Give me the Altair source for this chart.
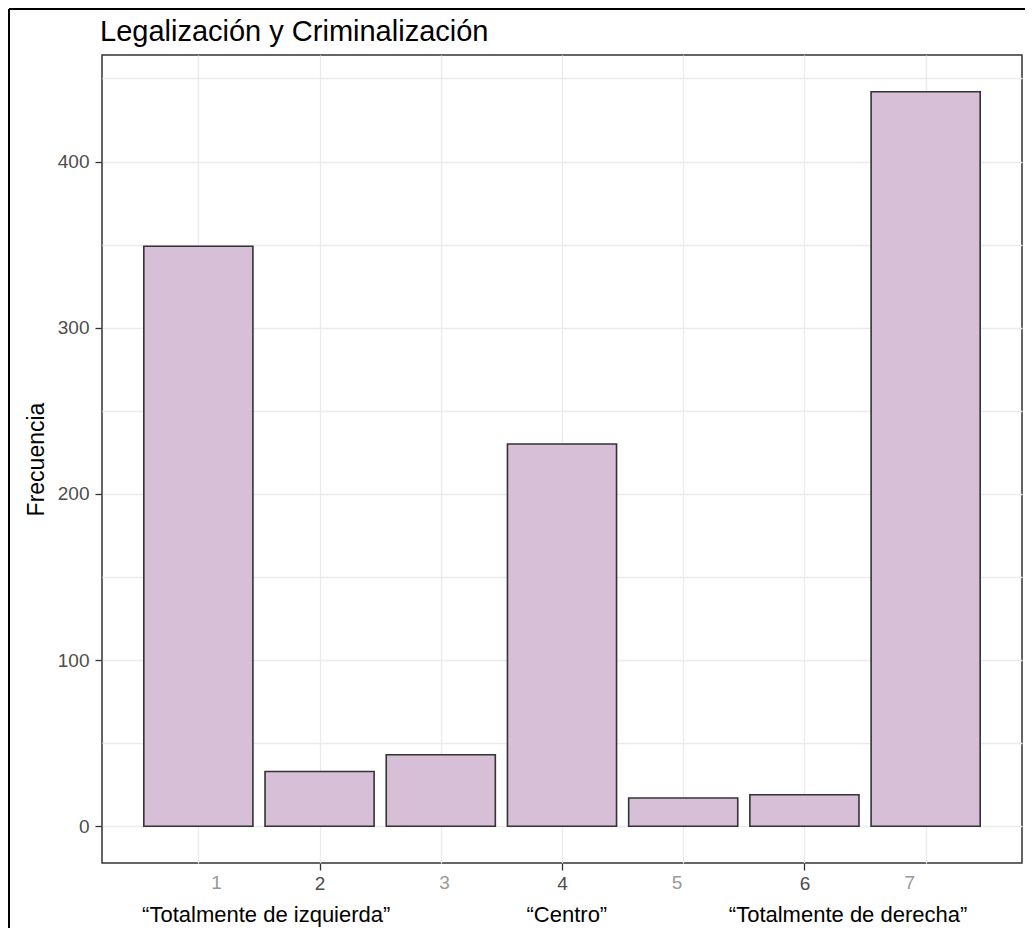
import altair as alt
import pandas as pd

# ---- data ----
categories = [1, 2, 3, 4, 5, 6, 7]
frequencies = [349, 33, 43, 230, 17, 19, 442]

odd_labels = ["1", "3", "5", "7"]
odd_label_pos = [1.15, 3.03, 4.95, 6.87]

scale_labels = ["\u201cTotalmente de izquierda\u201d", "\u201cCentro\u201d", "\u201cTotalmente de derecha\u201d"]
scale_label_pos = [1.56, 4.04, 6.36]

y_breaks = [0, 50, 100, 150, 200, 250, 300, 350, 400, 450]

title_text = ["Legalización y Criminalización"]

FONT = "Liberation Sans"
W, H = 920, 808

bars_df = pd.DataFrame({"valor": categories, "frecuencia": frequencies})
odd_df = pd.DataFrame({"pos": odd_label_pos, "lab": odd_labels})
scale_df = pd.DataFrame({"pos": scale_label_pos, "lab": scale_labels})
title_df = pd.DataFrame({"t": title_text})
frame_df = pd.DataFrame({"k": [0]})

xscale = alt.Scale(domain=[0.205, 7.795], nice=False, zero=False)
yscale = alt.Scale(domain=[-22.1, 464.1], nice=False, zero=False)

xaxis = alt.Axis(
    values=categories,
    grid=True, gridColor="#EBEBEB", gridWidth=1.3,
    domain=False,
    ticks=True, tickColor="#333333", tickSize=7, tickWidth=1.3,
    tickOpacity={"condition": {"test": "datum.value % 2 == 1", "value": 0}, "value": 1},
    labelExpr="datum.value % 2 == 0 ? datum.label : ''",
    labelColor="#4D4D4D", labelFont=FONT, labelFontSize=19,
    labelBaseline="middle", labelPadding=13,
    title=None,
)

yaxis = alt.Axis(
    values=y_breaks,
    grid=True, gridColor="#EBEBEB", gridWidth=1.3,
    domain=False,
    ticks=True, tickColor="#333333", tickSize=7, tickWidth=1.3,
    tickOpacity={"condition": {"test": "datum.value % 100 != 0", "value": 0}, "value": 1},
    labelExpr="datum.value % 100 == 0 ? datum.label : ''",
    labelColor="#4D4D4D", labelFont=FONT, labelFontSize=19, labelPadding=6,
    title="Frecuencia", titleFont=FONT, titleFontSize=23, titleFontWeight="normal",
    titleColor="black", titleX=-59, titleY=H / 2, titleBaseline="alphabetic",
    titleAngle=270, titleAlign="center",
)

bars = alt.Chart(bars_df).mark_rect(
    fill="#D8BFD8", stroke="#333333", strokeWidth=1.6
).transform_calculate(
    x0="datum.valor - 0.45", x1="datum.valor + 0.45"
).encode(
    x=alt.X("x0:Q", scale=xscale, axis=xaxis),
    x2="x1:Q",
    y=alt.Y("frecuencia:Q", scale=yscale, axis=yaxis),
    y2=alt.datum(0),
)

odd_text = alt.Chart(odd_df).mark_text(
    font=FONT, fontSize=19, color="#999999", baseline="middle", align="center"
).encode(
    x=alt.X("pos:Q", scale=xscale, axis=xaxis),
    y=alt.value(H + 20),
    text="lab:N",
)

scale_text = alt.Chart(scale_df).mark_text(
    font=FONT, fontSize=22, color="black", baseline="middle", align="center"
).encode(
    x=alt.X("pos:Q", scale=xscale, axis=xaxis),
    y=alt.value(H + 52),
    text="lab:N",
)

title_mark = alt.Chart(title_df).mark_text(
    font=FONT, fontSize=29, color="black", baseline="alphabetic", align="left"
).encode(
    x=alt.value(-2), y=alt.value(-14), text="t:N"
)

frame_left = alt.Chart(frame_df).mark_rule(color="black", strokeWidth=2).encode(
    x=alt.value(-93), y=alt.value(-46), y2=alt.value(H + 65)
)
frame_top = alt.Chart(frame_df).mark_rule(color="black", strokeWidth=2).encode(
    x=alt.value(-93), x2=alt.value(W + 3), y=alt.value(-46)
)

chart = alt.layer(bars, odd_text, scale_text, title_mark, frame_left, frame_top).properties(
    width=W, height=H,
    autosize=alt.AutoSizeParams(type="none"),
    padding={"left": 94, "top": 47, "right": 3, "bottom": 65},
    background="white",
).configure_view(
    stroke="#333333", strokeWidth=1.5
)

chart.save("out.html", embed_options={"renderer": "svg", "actions": False})
